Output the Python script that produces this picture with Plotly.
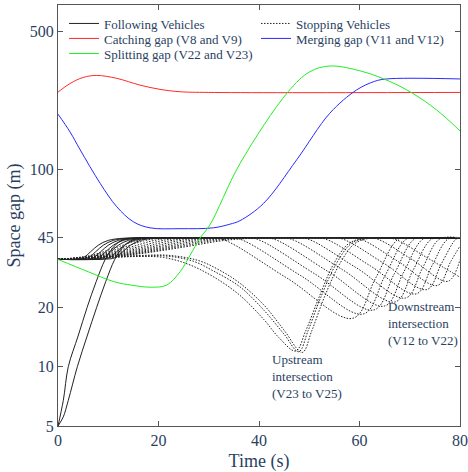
import math
import plotly.graph_objects as go

FONT = "Times New Roman"

# ---------------- Following vehicles (solid black) ----------------
# two vehicles that start close behind their leaders (gap 5 m)
follow_close_t = [
    [0, 1.06, 2.05, 4, 5.8, 7.6, 9.4, 10.9, 12.5, 15, 19, 80],
    [0, 1.05, 2.05, 3.85, 5.8, 7.7, 9.5, 11.3, 12.8, 14.5, 17, 21, 80],
]
follow_close_gap = [
    [5, 6.75, 10, 14.3, 20, 27, 35, 40, 43.5, 44.8, 45, 45],
    [5, 5.56, 6.75, 10, 14.3, 20, 27, 35, 40, 43.5, 44.8, 45, 45],
]
# vehicles that start at the 35 m gap and open up to 45 m
follow_t = [
    [0, 2.5, 5.0, 6.5, 8.0, 10.0, 13.0, 17.0, 80],
    [0, 3.5, 6.0, 7.5, 9.0, 11.0, 14.0, 18.0, 80],
    [0, 4.5, 7.0, 8.5, 10.0, 12.0, 15.0, 19.0, 80],
    [0, 5.5, 8.0, 9.5, 11.0, 13.0, 16.0, 20.0, 80],
    [0, 6.5, 9.0, 10.5, 12.0, 14.0, 17.0, 21.0, 80],
    [0, 7.7, 10.2, 11.7, 13.2, 15.2, 18.2, 22.2, 80],
    [0, 8.9, 11.4, 12.9, 14.4, 16.4, 19.4, 23.4, 80],
]
follow_gap = [35, 35.05, 35.7, 38.3, 41.3, 43.7, 44.8, 45, 45]

# ---------------- Stopping vehicles (dotted black) ----------------
# downstream intersection, V12 to V22
down_t = [
    [0, 6.3, 11.7, 15.3, 18, 29.5, 32.5, 45.6, 58.7, 63.2, 67.7, 70.7, 80],
    [0, 7.0, 13.0, 17.0, 20, 33.0, 36.0, 48.4, 60.8, 65.05, 69.3, 72.3, 80],
    [0, 7.7, 14.3, 18.7, 22, 36.4, 39.4, 51.15, 62.9, 66.9, 70.9, 73.9, 80],
    [0, 8.4, 15.6, 20.4, 24, 39.8, 42.8, 53.9, 65.0, 68.8, 72.6, 75.6, 80],
    [0, 9.1, 16.9, 22.1, 26, 43.2, 46.2, 56.65, 67.1, 70.7, 74.3, 77.3, 80],
    [0, 9.8, 18.2, 23.8, 28, 46.6, 49.6, 59.4, 69.2, 72.55, 75.9, 80],
    [0, 10.5, 19.5, 25.5, 30, 50.1, 53.1, 62.2, 71.3, 74.4, 77.55, 80],
    [0, 11.2, 20.8, 27.2, 32, 53.5, 56.5, 64.95, 73.4, 76.3, 79.2, 80],
    [0, 11.9, 22.1, 28.9, 34, 57.0, 60.0, 67.75, 75.5, 78.15, 80],
    [0, 12.6, 23.4, 30.6, 36, 60.4, 63.4, 70.5, 77.6, 80],
    [0, 13.3, 24.7, 32.3, 38, 63.8, 66.8, 73.4, 80],
]
down_gap = [
    [35, 36.6, 40.3, 43.4, 44.7, 44.9, 44.5, 28.1, 17.6, 28.1, 44.3, 45, 45],
    [35, 36.6, 40.3, 43.4, 44.7, 44.9, 44.5, 28.85, 18.5, 28.85, 44.3, 45, 45],
    [35, 36.6, 40.3, 43.4, 44.7, 44.9, 44.5, 29.5, 19.4, 29.5, 44.3, 45, 45],
    [35, 36.6, 40.3, 43.4, 44.7, 44.9, 44.5, 30.2, 20.3, 30.2, 44.3, 45, 45],
    [35, 36.6, 40.3, 43.4, 44.7, 44.9, 44.5, 31.0, 21.3, 31.0, 44.3, 45, 45],
    [35, 36.6, 40.3, 43.4, 44.7, 44.9, 44.5, 31.7, 22.3, 31.7, 44.3, 45],
    [35, 36.6, 40.3, 43.4, 44.7, 44.9, 44.5, 32.4, 23.4, 32.4, 44.3, 45],
    [35, 36.6, 40.3, 43.4, 44.7, 44.9, 44.5, 33.3, 24.6, 33.3, 44.3, 44.7],
    [35, 36.6, 40.3, 43.4, 44.7, 44.9, 44.5, 34.1, 25.8, 34.1, 40.9],
    [35, 36.6, 40.3, 43.4, 44.7, 44.9, 44.5, 34.9, 27.1, 34.9],
    [35, 36.6, 40.3, 43.4, 44.7, 44.9, 44.5, 35.75, 28.4],
]
# upstream intersection, V23 to V25
up_t = [
    [0, 8, 16, 21, 26, 31, 36.2, 41, 44, 47.3, 49.3, 51.8, 54.8, 57.8, 60.8, 64, 80],
    [0, 8, 16, 22, 27, 31, 36.2, 41, 45, 47.9, 49.8, 52.3, 55.3, 58.3, 61.3, 65, 80],
    [0, 8, 16, 22, 28, 32, 36.2, 41, 45, 48.6, 50.5, 53.0, 56.0, 59.0, 62.0, 66, 80],
]
up_gap = [
    [35, 35.5, 36.2, 35.8, 33.0, 28.5, 23.0, 17.3, 14.0, 12.0, 15.2, 22.0, 33, 42, 44.8, 45, 45],
    [35, 35.6, 36.4, 36.3, 34.2, 30.5, 25.4, 19.3, 14.6, 11.9, 15.3, 22.5, 33, 42, 44.8, 45, 45],
    [35, 35.7, 36.6, 36.7, 34.5, 31.0, 26.5, 20.5, 15.3, 11.8, 15.2, 22.5, 33, 42, 44.8, 45, 45],
]

# ---------------- Inter-platoon gaps ----------------
catch_t = [0, 2.4, 5, 7.7, 11.7, 16.3, 20.3, 24.3, 30, 80]
catch_gap = [247, 273, 293, 300, 290, 268, 255, 248, 246, 246]

merge_t = [0, 2.4, 4.4, 8.4, 11.7, 15, 18.3, 24.3, 30.9, 34.2, 36.2, 40.9,
           47.5, 54.1, 59.4, 63, 65.4, 80]
merge_gap = [191, 155, 126, 85, 64.7, 54.3, 50.6, 50.1, 50.6, 52.8, 55, 67.3,
             112, 193, 253, 280, 288, 288]

split_t = [0, 6, 11.3, 14.7, 18.3, 21.6, 24.3, 26.3, 28.3, 30.2, 36.2, 45.8,
           50.1, 54.1, 60.8, 66.1, 70.4, 75.4, 80]
split_gap = [35, 30.3, 26.9, 25.9, 25.3, 25.9, 30.3, 36.8, 45, 52.2, 107, 248,
             313, 335, 313, 279, 245, 200, 157]

y_ticks = [5, 10, 20, 45, 100, 500]
x_ticks = [0, 20, 40, 60, 80]

fig = go.Figure()

SOLID = dict(color="#222222", width=1)
DOTTED = dict(color="#222222", width=1, dash="1.5px,1.5px")


def add_curve(t, g, line, name, group, legend, show):
    fig.add_trace(go.Scatter(
        x=t, y=g, mode="lines", line=dict(shape="spline", **line),
        name=name, legendgroup=group, legend=legend, showlegend=show))


first = True
for t, g in zip(follow_close_t, follow_close_gap):
    add_curve(t, g, SOLID, "Following Vehicles", "follow", "legend", first)
    first = False
for t in follow_t:
    add_curve(t, follow_gap, SOLID, "Following Vehicles", "follow", "legend", False)

first = True
for t, g in zip(down_t + up_t, down_gap + up_gap):
    add_curve(t, g, DOTTED, "Stopping Vehicles", "stop", "legend", first)
    first = False

add_curve(catch_t, catch_gap, dict(color="#ff2a2a", width=1),
          "Catching gap (V8 and V9)", "catch", "legend2", True)
add_curve(merge_t, merge_gap, dict(color="#2a2aff", width=1),
          "Merging gap (V11 and V12)", "merge", "legend2", True)
add_curve(split_t, split_gap, dict(color="#22ee22", width=1),
          "Splitting gap (V22 and V23)", "split", "legend3", True)

# intersection labels (y given as log10 of the gap on the log axis)
fig.add_annotation(x=65.3, y=math.log10(16.6), xref="x", yref="y",
                   text="Downstream<br>intersection<br>(V12 to V22)",
                   showarrow=False, xanchor="left", yanchor="middle", align="left",
                   font=dict(family=FONT, size=13))
fig.add_annotation(x=42.1, y=math.log10(8.91), xref="x", yref="y",
                   text="Upstream<br>intersection<br>(V23 to V25)",
                   showarrow=False, xanchor="left", yanchor="middle", align="left",
                   font=dict(family=FONT, size=13))

axis_common = dict(showline=True, linecolor="#555555", linewidth=1, mirror="ticks",
                   ticks="inside", ticklen=5, tickcolor="#555555", showgrid=False,
                   zeroline=False, automargin=False, tickfont=dict(family=FONT, size=16))

fig.update_xaxes(range=[0, 80], tickvals=x_ticks,
                 title=dict(text="Time (s)", font=dict(family=FONT, size=18), standoff=6),
                 **axis_common)
fig.update_yaxes(type="log", range=[math.log10(5), math.log10(683)], tickvals=y_ticks,
                 ticktext=[str(v) for v in y_ticks],
                 title=dict(text="Space gap (m)", font=dict(family=FONT, size=18), standoff=4),
                 **axis_common)

legend_style = dict(orientation="h", x=0.015, xanchor="left", yanchor="top",
                    entrywidth=147, entrywidthmode="pixels",
                    font=dict(family=FONT, size=13),
                    bgcolor="rgba(0,0,0,0)", borderwidth=0, itemwidth=30)

fig.update_layout(
    width=468, height=472,
    margin=dict(l=58, r=8, t=5, b=46, autoexpand=False),
    plot_bgcolor="white", paper_bgcolor="white",
    legend=dict(y=0.9917, **legend_style),
    legend2=dict(y=0.9561, **legend_style),
    legend3=dict(y=0.9204, **legend_style),
)

fig.write_html("out.html")
